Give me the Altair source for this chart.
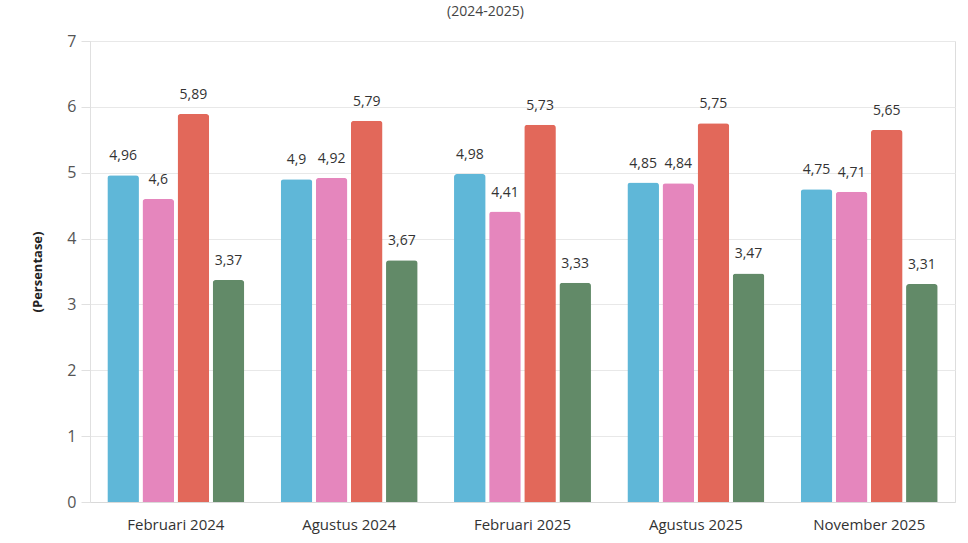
import altair as alt
import pandas as pd

periods = ["Februari 2024", "Agustus 2024", "Februari 2025", "Agustus 2025", "November 2025"]
series = ["Seri 1", "Seri 2", "Seri 3", "Seri 4"]
colors = ["#5fb7d8", "#e586bd", "#e2685a", "#628a68"]
s1 = [4.96, 4.90, 4.98, 4.85, 4.75]
s2 = [4.60, 4.92, 4.41, 4.84, 4.71]
s3 = [5.89, 5.79, 5.73, 5.75, 5.65]
s4 = [3.37, 3.67, 3.33, 3.47, 3.31]

rows = []
for name, vals in zip(series, [s1, s2, s3, s4]):
    for p, v in zip(periods, vals):
        rows.append({"periode": p, "seri": name, "nilai": v,
                     "label": f"{v:g}".replace(".", ",")})
df = pd.DataFrame(rows)

FONT = "Open Sans"

base = alt.Chart(df).encode(
    x=alt.X("periode:N", sort=periods, title=None,
            scale=alt.Scale(paddingInner=0.21, paddingOuter=0.1),
            axis=alt.Axis(labelAngle=0, labelFontSize=15, labelColor="#333333",
                          labelFont=FONT, ticks=False, labelPadding=15,
                          domainColor="#d9d9d9", grid=False)),
    xOffset=alt.XOffset("seri:N", sort=series,
                        scale=alt.Scale(paddingInner=0.1, paddingOuter=0)),
)

bars = base.mark_bar(cornerRadiusTopLeft=3, cornerRadiusTopRight=3).encode(
    y=alt.Y("nilai:Q", title="(Persentase)",
            scale=alt.Scale(domain=[0, 7]),
            axis=alt.Axis(values=[0, 1, 2, 3, 4, 5, 6, 7], format="d", labelFontSize=16,
                          labelColor="#555555", labelFont=FONT, tickSize=9,
                          tickColor="#e0e0e0", domainColor="#e0e0e0",
                          gridColor="#e8e8e8", labelPadding=5,
                          titleFont=FONT, titleFontSize=13, titleFontWeight="bold",
                          titleColor="#222222", titlePadding=22)),
    color=alt.Color("seri:N", sort=series,
                    scale=alt.Scale(domain=series, range=colors), legend=None),
)

labels = base.mark_text(baseline="bottom", dy=-12, fontSize=14, font=FONT,
                        color="#333333").encode(
    y=alt.Y("nilai:Q"),
    text="label:N",
)

chart = (bars + labels).properties(
    width=865, height=461,
    title=alt.TitleParams("(2024-2025)", fontSize=14, font=FONT, fontWeight="normal",
                          color="#444444", anchor="middle", offset=14, dx=-37),
    autosize=alt.AutoSizeParams(type="none"),
    padding={"left": 90, "top": 41, "right": 13, "bottom": 41},
).configure_view(stroke=None).configure(background="white")

chart.save("out.html", embed_options={"renderer": "svg", "actions": False})
